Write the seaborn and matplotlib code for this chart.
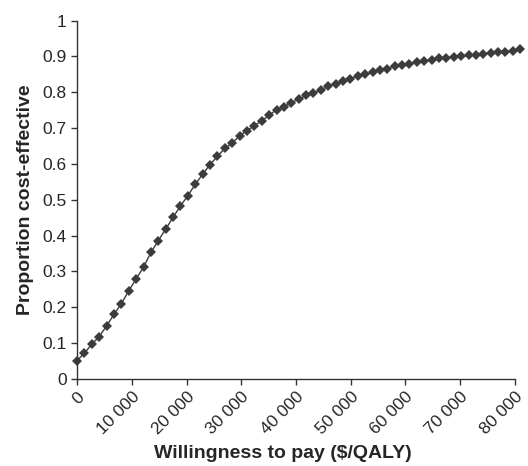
import numpy as np
import pandas as pd
import seaborn as sns
import matplotlib.pyplot as plt
from matplotlib.ticker import FuncFormatter

# willingness-to-pay grid (one point every 1350 $/QALY)
wtp = list(range(0, 81001, 1350))
prop_ce = [0.051, 0.072, 0.097, 0.118, 0.148, 0.180, 0.210, 0.246, 0.279, 0.312,
           0.353, 0.386, 0.418, 0.451, 0.483, 0.511, 0.543, 0.571, 0.598, 0.621,
           0.643, 0.658, 0.678, 0.693, 0.706, 0.720, 0.736, 0.751, 0.759, 0.771,
           0.780, 0.791, 0.797, 0.806, 0.817, 0.823, 0.830, 0.837, 0.845, 0.850,
           0.855, 0.862, 0.866, 0.873, 0.876, 0.879, 0.883, 0.886, 0.889, 0.894,
           0.896, 0.898, 0.901, 0.903, 0.905, 0.907, 0.909, 0.911, 0.913, 0.915,
           0.921]
x_ticks = [0, 10000, 20000, 30000, 40000, 50000, 60000, 70000, 80000]
y_ticks = [0, 0.1, 0.2, 0.3, 0.4, 0.5, 0.6, 0.7, 0.8, 0.9, 1]

df = pd.DataFrame({'wtp': wtp, 'prop': prop_ce})

sns.set_style('ticks')
plt.rcParams['font.family'] = ['Liberation Sans', 'DejaVu Sans']

fig = plt.figure(figsize=(5.28, 4.66), dpi=100)
ax = fig.add_axes([0.146, 0.187, 0.829, 0.769])

sns.lineplot(data=df, x='wtp', y='prop', ax=ax, color='#3c3c3c', linewidth=1.0,
             marker='D', markersize=5, markeredgewidth=0, clip_on=False)

ax.set_xlim(0, 80000)
ax.set_ylim(0, 1)
ax.set_xticks(x_ticks)
ax.set_yticks(y_ticks)
ax.xaxis.set_major_formatter(FuncFormatter(lambda v, p: f'{int(v):,}'.replace(',', ' ')))
ax.yaxis.set_major_formatter(FuncFormatter(lambda v, p: '0' if v == 0 else ('1' if v == 1 else f'{v:.1f}')))

for lbl in ax.get_xticklabels():
    lbl.set_rotation(45)
    lbl.set_ha('right')
    lbl.set_rotation_mode('anchor')

ax.tick_params(axis='both', labelsize=12.5, length=4, width=1, color='#333333', direction='out')
ax.set_xlabel('Willingness to pay ($/QALY)', fontsize=14, fontweight='bold')
ax.set_ylabel('Proportion cost-effective', fontsize=14, fontweight='bold', labelpad=6)
ax.xaxis.set_label_coords(0.47, -0.185)

sns.despine(ax=ax)
for s in ['left', 'bottom']:
    ax.spines[s].set_color('#333333')
    ax.spines[s].set_linewidth(1)

fig.savefig('out.png', dpi=100)
